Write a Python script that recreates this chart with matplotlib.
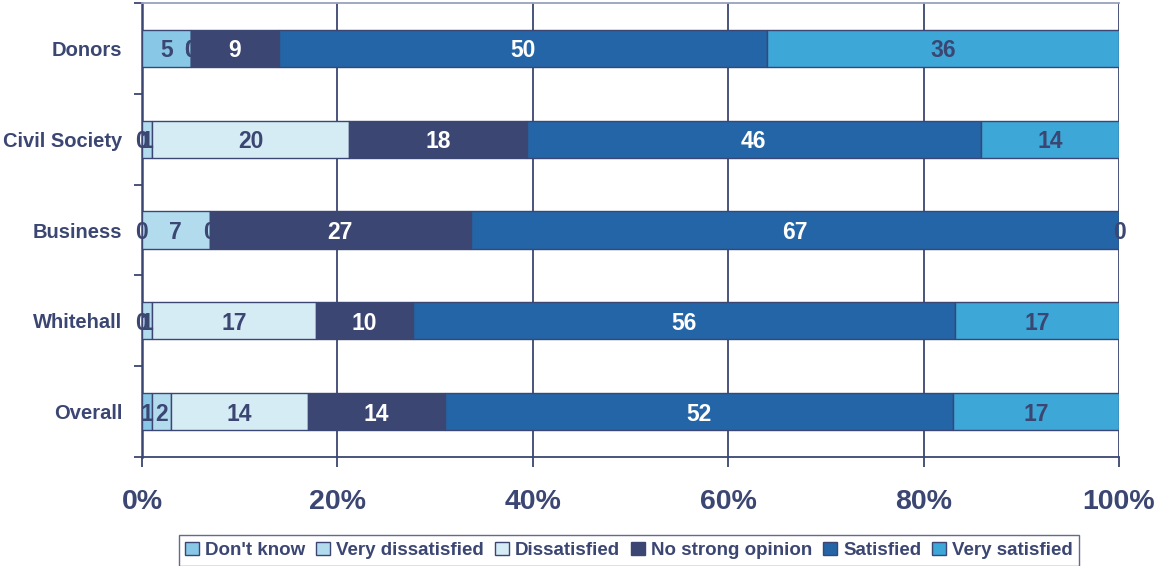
import numpy as np
import matplotlib
matplotlib.use("Agg")
import matplotlib.pyplot as plt
from matplotlib.patches import Patch

plt.rcParams['font.family'] = ['Liberation Sans', 'DejaVu Sans']

categories = ["Donors", "Civil Society", "Business", "Whitehall", "Overall"]
series_names = ["Don't know", "Very dissatisfied", "Dissatisfied",
                "No strong opinion", "Satisfied", "Very satisfied"]
dont_know = [5, 0, 0, 0, 1]
very_dissatisfied = [0, 1, 7, 1, 2]
dissatisfied = [0, 20, 0, 17, 14]
no_opinion = [9, 18, 27, 10, 14]
satisfied = [50, 46, 67, 56, 52]
very_satisfied = [36, 14, 0, 17, 17]
x_ticks = [0, 20, 40, 60, 80, 100]
x_tick_labels = ["0%", "20%", "40%", "60%", "80%", "100%"]

navy = "#3B4672"
colors = ["#88C8E6", "#B2DCEE", "#D5ECF5", "#3B4672", "#2465A7", "#3DA7D7"]
text_colors = [navy, navy, navy, "white", "white", navy]

series = np.array([dont_know, very_dissatisfied, dissatisfied,
                   no_opinion, satisfied, very_satisfied], dtype=float)
totals = series.sum(axis=0)
shares = series / totals * 100

fig = plt.figure(figsize=(11.6, 5.66), dpi=100)
ax = fig.add_axes([142 / 1160, 1 - 457 / 566, (1119 - 142) / 1160, (457 - 3) / 566])

y = np.arange(len(categories))
left = np.zeros(len(categories))
for i, name in enumerate(series_names):
    bars = ax.barh(y, shares[i], left=left, height=0.41, color=colors[i],
                   edgecolor=navy, linewidth=1.0, label=name, zorder=3)
    labels = ax.bar_label(bars, labels=[f"{int(v)}" for v in series[i]], label_type="center",
                          color=text_colors[i], fontsize=16.5, fontweight="bold", zorder=4)
    for t in labels:
        t.set_y(t.get_position()[1])
        t.set_va("center_baseline")
    left += shares[i]

ax.set_xlim(0, 100)
ax.set_ylim(len(categories) - 0.5, -0.5)
ax.set_xticks(x_ticks)
ax.set_xticklabels(x_tick_labels)
ax.set_yticks(y)
ax.set_yticklabels(categories)
ax.set_yticks(np.arange(-0.5, len(categories)), minor=True)

ax.xaxis.grid(True, color=navy, linewidth=1.3, zorder=0)
ax.tick_params(axis="x", direction="out", length=7, width=1.3, color=navy,
               labelsize=20.5, labelcolor=navy, pad=16)
for lbl in ax.get_xticklabels():
    lbl.set_fontweight("bold")
ax.tick_params(axis="y", which="major", length=0, labelsize=14.5,
               labelcolor=navy, pad=14)
for lbl in ax.get_yticklabels():
    lbl.set_fontweight("bold")
ax.tick_params(axis="y", which="minor", direction="out", length=6, width=1.3, color=navy)

for side in ["left", "bottom"]:
    ax.spines[side].set_color(navy)
    ax.spines[side].set_linewidth(1.8 if side == "left" else 1.3)
ax.spines["top"].set_color("#9AA2BE")
ax.spines["top"].set_linewidth(1.3)
ax.spines["right"].set_visible(False)

handles = [Patch(facecolor=c, edgecolor=navy, linewidth=1.0, label=n)
           for c, n in zip(colors, series_names)]
leg = fig.legend(handles=handles, loc="upper center", bbox_to_anchor=(629 / 1160, 1 - 535 / 566),
                 borderaxespad=0, ncol=6, frameon=True, fancybox=False, edgecolor=navy,
                 prop={"weight": "bold", "size": 13.5}, handlelength=0.75, handleheight=0.75,
                 handletextpad=0.3, columnspacing=0.6, borderpad=0.35)
for t in leg.get_texts():
    t.set_color(navy)
leg.get_frame().set_linewidth(1.0)

fig.savefig("out.png", dpi=100)
